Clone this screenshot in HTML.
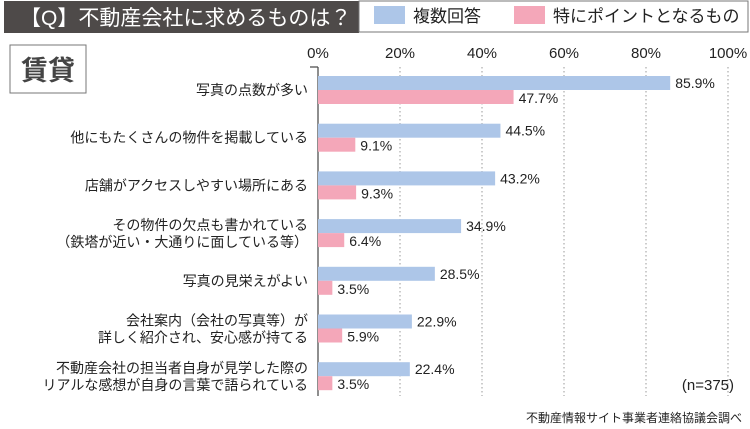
<!DOCTYPE html>
<html><head><meta charset="utf-8"><style>
body{margin:0;background:#fff;font-family:"Liberation Sans","Noto Sans CJK JP",sans-serif;}
#c{position:relative;width:750px;height:429px;overflow:hidden;background:#fff}
</style></head><body>
<div id="c">
<svg id="s" width="750" height="429" xmlns="http://www.w3.org/2000/svg" font-family="Liberation Sans, Noto Sans CJK JP, sans-serif">
<rect x="4" y="1" width="355" height="32" fill="#4e4a49"/>
<text x="20" y="25" fill="#fff" font-size="21">【Q】不動産会社に求めるものは？</text>
<rect x="359" y="1" width="389" height="31" fill="#fff" stroke="#777"/>
<rect x="374" y="6" width="31" height="18" fill="#adc6e8"/>
<text x="413" y="22" font-size="17" fill="#222">複数回答</text>
<rect x="514" y="6" width="31" height="18" fill="#f4a7b9"/>
<text x="553" y="22" font-size="17" fill="#222">特にポイントとなるもの</text>
<rect x="10" y="45" width="76" height="48" fill="#fff" stroke="#777"/>
<text x="48" y="80" font-size="27" font-weight="bold" fill="#444" text-anchor="middle">賃貸</text>
<g id="grid"></g><g id="bars"></g>
<text x="734" y="390" font-size="15" fill="#222" text-anchor="end">(n=375)</text>
<text x="742" y="422" font-size="12" fill="#222" text-anchor="end">不動産情報サイト事業者連絡協議会調べ</text>
</svg></div>
<script>
const categories=[["写真の点数が多い"],["他にもたくさんの物件を掲載している"],["店舗がアクセスしやすい場所にある"],["その物件の欠点も書かれている","（鉄塔が近い・大通りに面している等）"],["写真の見栄えがよい"],["会社案内（会社の写真等）が","詳しく紹介され、安心感が持てる"],["不動産会社の担当者自身が見学した際の","リアルな感想が自身の言葉で語られている"]];
const multiValues=[85.9,44.5,43.2,34.9,28.5,22.9,22.4];
const keyValues=[47.7,9.1,9.3,6.4,3.5,5.9,3.5];
const ticks=[0,20,40,60,80,100];
const NS="http://www.w3.org/2000/svg";
const x0=318,pxPer=4.1,yTop=67,yBottom=396,rowH=47.7,firstY=76,barH=14;
const xs=v=>x0+v*pxPer;
function mk(t,a,p){const e=document.createElementNS(NS,t);for(const k in a)e.setAttribute(k,a[k]);p.appendChild(e);return e;}
const g=document.getElementById('grid'),b=document.getElementById('bars');
ticks.forEach(t=>{
 if(t>0){const l=mk('line',{x1:xs(t),x2:xs(t),y1:yTop,y2:yBottom,stroke:'#999','stroke-dasharray':'1.5,2.5'},g);
 
 }
 const tx=mk('text',{x:xs(t),y:58,'font-size':15,'text-anchor':'middle',fill:'#222'},g);tx.textContent=t+'%';
 
 
});
const ax=mk('line',{x1:x0,x2:x0,y1:yTop,y2:yBottom,stroke:'#444','stroke-width':1.2},g);


const ax2=mk('line',{x1:310,x2:x0,y1:yTop,y2:yTop,stroke:'#444','stroke-width':1.2},g);


categories.forEach((c,i)=>{
 const y=firstY+i*rowH;
 const r1=mk('rect',{x:x0,y:y,width:xs(multiValues[i])-x0,height:barH,fill:'#adc6e8'},b);
 
 
 const r2=mk('rect',{x:x0,y:y+barH,width:xs(keyValues[i])-x0,height:barH,fill:'#f4a7b9'},b);
 
 
 const v1=mk('text',{x:xs(multiValues[i])+5,y:y+12,'font-size':14,fill:'#222'},b);v1.textContent=multiValues[i].toFixed(1)+'%';
 
 
 const v2=mk('text',{x:xs(keyValues[i])+5,y:y+barH+13,'font-size':14,fill:'#222'},b);v2.textContent=keyValues[i].toFixed(1)+'%';
 
 
 const cy=y+barH;
 c.forEach((line,j)=>{
  const ty=c.length==1?cy+5:cy-3+j*17;
  const t=mk('text',{x:308,y:ty,'font-size':14,'text-anchor':'end',fill:'#222'},b);t.textContent=line;
  
  
 });
});
</script>
</body></html>
